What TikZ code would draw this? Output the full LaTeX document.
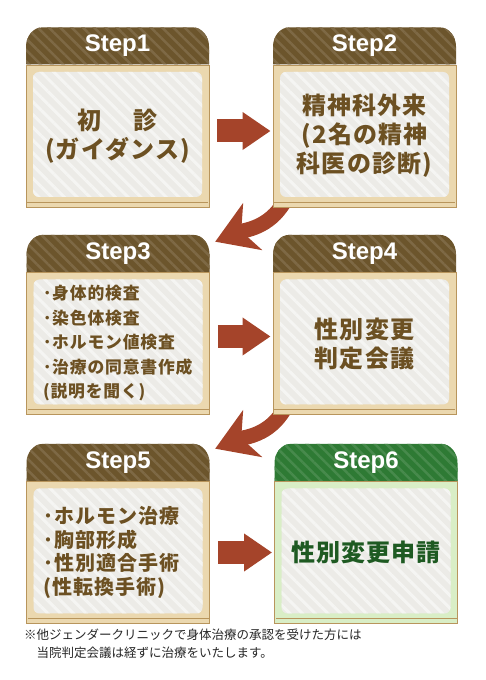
\documentclass[tikz,border=0pt]{standalone}
\usepackage{fontspec}
\setmainfont{Liberation Sans}
\newfontfamily\jpfont{Noto Sans CJK JP}[LetterSpace=5]
\newfontfamily\notefont{Noto Sans CJK JP}
\usetikzlibrary{arrows.meta,positioning,patterns.meta,backgrounds}

\definecolor{hdbrown}{HTML}{6C552C}
\definecolor{hdgreen}{HTML}{2E7A34}
\definecolor{frametan}{HTML}{EBD8AF}
\definecolor{framegreen}{HTML}{D9EEC6}
\definecolor{frameline}{HTML}{B8955C}
\definecolor{panel}{HTML}{ECEBE7}
\definecolor{txtbrown}{HTML}{6C5022}
\definecolor{txtgreen}{HTML}{1E5A22}
\definecolor{arrred}{HTML}{A5442A}

\begin{document}
\begin{tikzpicture}[x=1pt, y=1pt,
  head/.style={minimum width=183pt, minimum height=37pt, inner sep=0pt, text=white,
    font=\bfseries\fontsize{24}{26}\selectfont,
    path picture={
      \path[preaction={fill=#1}, pattern={Lines[angle=-45,distance=8pt,line width=2.5pt]},
        pattern color=#1!88!white]
        (path picture bounding box.south west) -- ++(0,18)
        .. controls +(0,10) and +(-9,0) .. ++(16,19)
        -- ([xshift=-16pt]path picture bounding box.north east)
        .. controls +(9,0) and +(0,10) .. ++(16,-19)
        -- (path picture bounding box.south east) -- cycle;
    }},
  head/.default=hdbrown,
  body/.style={draw=frameline, line width=0.8pt, fill=#1, minimum width=183pt,
    minimum height=142pt, inner sep=0pt, text=txtbrown, align=center,
    font=\jpfont\bfseries\fontsize{24}{29}\selectfont,
    path picture={
      \path[preaction={fill=panel}, pattern={Lines[angle=-45,distance=9pt,line width=3pt]},
        pattern color=white!50!panel, rounded corners=6pt]
        ([shift={(7pt,10pt)}]path picture bounding box.south west)
        rectangle ([shift={(-7pt,-7pt)}]path picture bounding box.north east);
      \draw[frameline, line width=0.8pt]
        ([shift={(1pt,5pt)}]path picture bounding box.south west)
        -- ([shift={(-1pt,5pt)}]path picture bounding box.south east);
    }},
  body/.default=frametan,
  list/.style={align=left, text width=150pt},
  fatarr/.style={-{Triangle[length=28pt,width=36pt]}, line width=23pt, draw=arrred,
    shorten <=8pt, shorten >=2pt},
  bentarr/.style={-{Stealth[length=40pt,width=50pt,inset=12pt]}, line width=15pt, draw=arrred}
]
\useasboundingbox (0,0) rectangle (485,680);

\node[body] (s1) at (117.5,544) {初\hspace{1.3em}診\\(ガイダンス)};
\node[body] (s2) at (364.5,544) {精神科外来\\(2名の精神\\科医の診断)};
\node[body, list, font=\jpfont\bfseries\fontsize{16.8}{24.5}\selectfont] (s3) at (118,336.5)
  {･身体的検査\\･染色体検査\\･ホルモン値検査\\･治療の同意書作成\\(説明を聞く)};
\node[body] (s4) at (364.5,336.5) {性別変更\\判定会議};
\node[body, list, font=\jpfont\bfseries\fontsize{20}{23.5}\selectfont] (s5) at (118,127.5)
  {･ホルモン治療\\･胸部形成\\･性別適合手術\\(性転換手術)};
\node[body=framegreen, text=txtgreen] (s6) at (366,127.5) {性別変更申請};

\node[head, above=0pt of s1] (h1) {Step1};
\node[head, above=0pt of s2] (h2) {Step2};
\node[head, above=0pt of s3] (h3) {Step3};
\node[head, above=0pt of s4] (h4) {Step4};
\node[head, above=0pt of s5] (h5) {Step5};
\node[head=hdgreen, above=0pt of s6] (h6) {Step6};

\draw[fatarr] ([yshift=5pt]s1.east) -- ([yshift=5pt]s2.west);
\draw[fatarr] ([yshift=7pt]s3.east) -- ([yshift=7pt]s4.west);
\draw[fatarr] (s5.east) -- (s6.west);
\begin{scope}[on background layer]
\draw[bentarr] ([shift={(12,6)}]s2.south west) to[out=240, in=22] ([shift={(5.5,-7)}]h3.north east);
\draw[bentarr] ([shift={(12,6)}]s4.south west) to[out=240, in=22] ([shift={(5.5,-5)}]h5.north east);
\end{scope}

\node[anchor=north west, align=left, inner sep=0pt, text=black!85,
  font=\notefont\fontsize{12.5}{18}\selectfont] (note) at (24,51)
  {※他ジェンダークリニックで身体治療の承認を受けた方には\\\hspace{1em}当院判定会議は経ずに治療をいたします。};
\end{tikzpicture}
\end{document}
